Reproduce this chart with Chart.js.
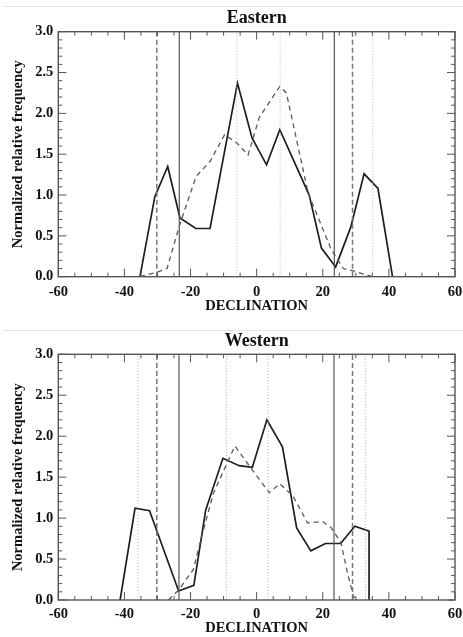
<!DOCTYPE html>
<html>
<head>
<meta charset="utf-8">
<script src="https://cdn.jsdelivr.net/npm/chart.js@4.4.1/dist/chart.umd.min.js"></script>
<style>
    html, body { margin: 0; padding: 0; background: #fff; }
    body { width: 463px; height: 637px; position: relative; overflow: hidden; }
    .panel { position: absolute; left: 0; width: 463px; }
    .rule  { position: absolute; left: 3px; width: 460px; height: 1px; background: #e4e4e4; }
</style>
</head>
<body>
<div class="rule" style="top:6px"></div>
<div class="panel" style="top:0"><canvas id="east-chart" width="463" height="320"></canvas></div>
<div class="rule" style="top:330px"></div>
<div class="panel" style="top:320px"><canvas id="west-chart" width="463" height="317"></canvas></div>
<script>
"use strict";

// ─── Data ─────────────────────────────────────────────────────────────────────

// Eastern panel
const EAST_SOLID_X  = [-35.3, -30.8, -26.9, -23.2, -18.4, -14.1, -5.8, -1.4, 3.0, 7.0, 15.9, 19.6, 23.9, 28.5, 32.5, 36.7, 41.1];
const EAST_SOLID_Y  = [0.00, 0.98, 1.35, 0.72, 0.59, 0.59, 2.37, 1.70, 1.37, 1.80, 1.00, 0.35, 0.12, 0.61, 1.26, 1.08, 0.00];
const EAST_DASHED_X = [-35.3, -30.5, -27.1, -23.4, -18.3, -14.1, -9.7, -5.8, -2.6, 0.8, 7.0, 9.0, 15.6, 22.6, 26.2, 30.2, 35.0];
const EAST_DASHED_Y = [0.00, 0.05, 0.10, 0.62, 1.23, 1.41, 1.74, 1.63, 1.49, 1.95, 2.33, 2.25, 1.02, 0.33, 0.10, 0.06, 0.00];
const EAST_VSOLID   = [-23.4, 23.5];
const EAST_VDASHED  = [-30.2, 29.0];
const EAST_VDOTTED  = [-6.0, 7.1, 35.1];

// Western panel
const WEST_SOLID_X  = [-41.3, -36.8, -32.4, -23.6, -19.0, -15.4, -10.2, -5.3, -1.3, 3.1, 7.8, 12.1, 16.4, 20.8, 25.4, 29.7, 34.0, 34.0];
const WEST_SOLID_Y  = [0.00, 1.12, 1.09, 0.11, 0.18, 1.10, 1.73, 1.64, 1.62, 2.20, 1.87, 0.88, 0.60, 0.69, 0.69, 0.90, 0.84, 0.00];
const WEST_DASHED_X = [-26.7, -23.6, -19.2, -16.2, -13.1, -6.6, -2.1, 3.8, 7.0, 11.0, 15.4, 19.9, 22.6, 25.5, 27.7, 29.4, 30.8];
const WEST_DASHED_Y = [0.00, 0.12, 0.37, 0.84, 1.30, 1.88, 1.63, 1.31, 1.42, 1.27, 0.94, 0.96, 0.88, 0.70, 0.29, 0.03, 0.04];
const WEST_VSOLID   = [-23.5, 23.4];
const WEST_VDASHED  = [-30.2, 29.0];
const WEST_VDOTTED  = [-35.9, -9.1, 3.5, 32.9];

// Axes
const X_MIN = -60, X_MAX = 60, X_STEP = 20, X_MINOR = 5;
const Y_MIN = 0,   Y_MAX = 3,  Y_STEP = 0.5, Y_MINOR = 0.1;
const X_TITLE = "DECLINATION";
const Y_TITLE = "Normalized relative frequency";

const FONT_FAMILY = "'Liberation Serif', 'DejaVu Serif', serif";
const INK   = "#111";
const FRAME = "#555";

// ─── Helpers ──────────────────────────────────────────────────────────────────

function _pts(xs, ys) {
    return xs.map(function(x, i) { return { x: x, y: ys[i] }; });
}

function _vline(x, style) {
    return {
        xAxisID:     "x",
        data:        [{ x: x, y: Y_MIN }, { x: x, y: Y_MAX }],
        borderColor: style.color,
        borderWidth: style.width,
        borderDash:  style.dash,
        pointRadius: 0,
        showLine:    true,
        fill:        false
    };
}

const V_SOLID  = { color: "#555", width: 1.2, dash: [] };
const V_DASHED = { color: "#777", width: 1.5, dash: [5, 3] };
const V_DOTTED = { color: "#b8b8b8", width: 1,   dash: [1, 2] };

// IDL style frame: box with inward major / minor ticks on all four sides
const idlFrame = {
    id: "idlFrame",
    afterDatasetsDraw: function(chart) {
        var ctx = chart.ctx, a = chart.chartArea;
        var xs = chart.scales.x, ys = chart.scales.y;
        var v, p, len;
        ctx.save();
        ctx.strokeStyle = FRAME;
        ctx.lineWidth = 1.4;
        ctx.strokeRect(a.left, a.top, a.right - a.left, a.bottom - a.top);
        ctx.lineWidth = 1;
        ctx.beginPath();
        for (v = X_MIN; v <= X_MAX + 1e-9; v += X_MINOR) {
            p = xs.getPixelForValue(v);
            len = Math.abs(v % X_STEP) < 1e-6 ? 8 : 4;
            ctx.moveTo(p, a.bottom); ctx.lineTo(p, a.bottom - len);
            ctx.moveTo(p, a.top);    ctx.lineTo(p, a.top + len);
        }
        for (v = 0; v <= 30; v += 1) {
            p = ys.getPixelForValue(Y_MIN + v * Y_MINOR);
            len = v % 5 === 0 ? 8 : 4;
            ctx.moveTo(a.left, p);  ctx.lineTo(a.left + len, p);
            ctx.moveTo(a.right, p); ctx.lineTo(a.right - len, p);
        }
        ctx.stroke();
        ctx.restore();
    }
};

// ─── Chart ────────────────────────────────────────────────────────────────────

function _makeChart(canvasId, cfg) {
    var datasets = [];
    cfg.vdotted.forEach(function(x) { datasets.push(_vline(x, V_DOTTED)); });
    cfg.vdashed.forEach(function(x) { datasets.push(_vline(x, V_DASHED)); });
    cfg.vsolid.forEach(function(x)  { datasets.push(_vline(x, V_SOLID)); });
    datasets.push({
        xAxisID:     "x",
        data:        _pts(cfg.dashedX, cfg.dashedY),
        borderColor: "#5a5a5a",
        borderWidth: 1.3,
        borderDash:  [5, 4],
        pointRadius: 0,
        showLine:    true
    });
    datasets.push({
        xAxisID:     "x",
        data:        _pts(cfg.solidX, cfg.solidY),
        borderColor: "#1e1e1e",
        borderWidth: 1.7,
        pointRadius: 0,
        showLine:    true
    });

    return new Chart(document.getElementById(canvasId), {
        type: "scatter",
        data: { datasets: datasets },
        options: {
            responsive: false,
            animation: false,
            layout: { padding: { left: 0, right: 8, top: 0, bottom: 0 } },
            plugins: {
                legend:  { display: false },
                tooltip: { enabled: false },
                title:   { display: false }
            },
            scales: {
                // top axis only carries the panel title, centred over the plot
                x2: {
                    type: "linear",
                    position: "top",
                    min: X_MIN, max: X_MAX,
                    grid:   { display: false, drawTicks: false },
                    border: { display: false },
                    ticks:  { display: false },
                    title: {
                        display: true,
                        text: cfg.title,
                        color: INK,
                        font: { family: FONT_FAMILY, size: 18, weight: "bold", lineHeight: 1.2 },
                        padding: { top: cfg.titleTop, bottom: 0 }
                    },
                    afterFit: function(s) {
                        s.height = cfg.topHeight;
                        s.paddingLeft = 0;
                        s.paddingRight = 0;
                    }
                },
                x: {
                    type: "linear",
                    position: "bottom",
                    min: X_MIN, max: X_MAX,
                    grid:   { display: false, drawTicks: false },
                    border: { display: false },
                    ticks: {
                        stepSize: X_STEP,
                        color: INK,
                        padding: cfg.xTickPad,
                        maxRotation: 0,
                        font: { family: FONT_FAMILY, size: 14.5, weight: "bold" }
                    },
                    title: {
                        display: true,
                        text: X_TITLE,
                        color: INK,
                        font: { family: FONT_FAMILY, size: 14.5, weight: "bold", lineHeight: 1.2 },
                        padding: { top: 0, bottom: cfg.xTitlePad }
                    },
                    afterFit: function(s) {
                        s.height = cfg.xHeight;
                        s.paddingLeft = 0;
                        s.paddingRight = 0;
                    }
                },
                y: {
                    type: "linear",
                    min: Y_MIN, max: Y_MAX,
                    grid:   { display: false, drawTicks: false },
                    border: { display: false },
                    ticks: {
                        stepSize: Y_STEP,
                        color: INK,
                        padding: 5,
                        font: { family: FONT_FAMILY, size: 14.5, weight: "bold" },
                        callback: function(v) { return Number(v).toFixed(1); }
                    },
                    title: {
                        display: true,
                        text: Y_TITLE,
                        color: INK,
                        font: { family: FONT_FAMILY, size: 14.5, weight: "bold", lineHeight: 1.2 },
                        padding: { top: 10, bottom: 0 }
                    },
                    afterFit: function(s) {
                        s.width = 58.3;
                        s.paddingTop = 0;
                        s.paddingBottom = 0;
                    }
                }
            }
        },
        plugins: [idlFrame]
    });
}

_makeChart("east-chart", {
    title: "Eastern", titleTop: 7.5, topHeight: 31.7,
    xHeight: 43.3, xTickPad: 7, xTitlePad: 4.6,
    solidX: EAST_SOLID_X, solidY: EAST_SOLID_Y,
    dashedX: EAST_DASHED_X, dashedY: EAST_DASHED_Y,
    vsolid: EAST_VSOLID, vdashed: EAST_VDASHED, vdotted: EAST_VDOTTED
});

_makeChart("west-chart", {
    title: "Western", titleTop: 10.9, topHeight: 34.3,
    xHeight: 37, xTickPad: 5.5, xTitlePad: 0,
    solidX: WEST_SOLID_X, solidY: WEST_SOLID_Y,
    dashedX: WEST_DASHED_X, dashedY: WEST_DASHED_Y,
    vsolid: WEST_VSOLID, vdashed: WEST_VDASHED, vdotted: WEST_VDOTTED
});
</script>
</body>
</html>
